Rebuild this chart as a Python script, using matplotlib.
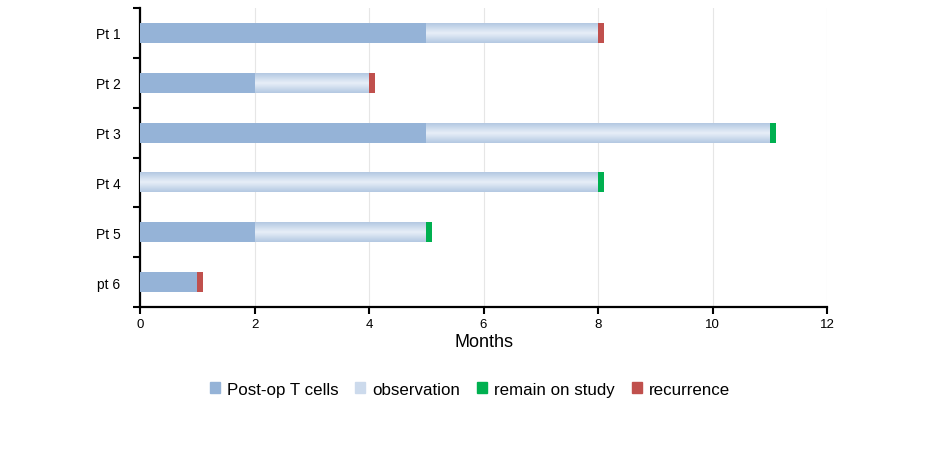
import numpy as np
import matplotlib
matplotlib.use('Agg')
import matplotlib.pyplot as plt
from matplotlib.colors import LinearSegmentedColormap
from matplotlib.patches import Patch

plt.rcParams['font.family'] = ['Liberation Sans', 'DejaVu Sans']

patients = ['Pt 1', 'Pt 2', 'Pt 3', 'Pt 4', 'Pt 5', 'pt 6']
tcells = [5, 2, 5, 0, 2, 1]
observation = [3, 2, 6, 8, 3, 0]
outcome = ['recurrence', 'recurrence', 'remain', 'remain', 'remain', 'recurrence']
marker_width = 0.1

col_t = '#95b3d7'
col_green = '#00b050'
col_red = '#c0504d'
grad = LinearSegmentedColormap.from_list('obs', ['#b3c8e2', '#e8eff8', '#b3c8e2'])

fig = plt.figure(figsize=(9.36, 4.52), dpi=100)
ax = fig.add_axes([0.1496, 0.3186, 0.734, 0.6614])

h = 0.4
y = np.arange(len(patients))
ax.barh(y, tcells, height=h, color=col_t, zorder=3)

# observation stretch gets a vertical gradient, lighter in the middle
g = np.linspace(0, 1, 64).reshape(-1, 1)
for i in range(len(patients)):
    if observation[i] > 0:
        x0 = tcells[i]
        x1 = tcells[i] + observation[i]
        ax.imshow(g, cmap=grad, aspect='auto', interpolation='bilinear',
                  extent=[x0, x1, y[i] + h / 2, y[i] - h / 2], zorder=3)
    end = tcells[i] + observation[i]
    c = col_red if outcome[i] == 'recurrence' else col_green
    ax.barh(y[i], marker_width, left=end, height=h, color=c, zorder=4)

ax.set_xlim(0, 12)
ax.set_ylim(len(patients) - 0.5, -0.5)
ax.set_xticks(range(0, 13, 2))
ax.set_yticks(y)
ax.set_yticklabels(patients)
ax.set_yticks(np.arange(-0.5, len(patients)), minor=True)
ax.tick_params(axis='y', which='major', length=0, pad=14, labelsize=10)
ax.tick_params(axis='y', which='minor', length=5, width=1.5)
ax.tick_params(axis='x', length=5, width=1.5, labelsize=9.5, pad=3)
ax.grid(axis='x', color='#e6e6e6', linewidth=0.8, zorder=0)
for s in ['top', 'right']:
    ax.spines[s].set_visible(False)
for s in ['left', 'bottom']:
    ax.spines[s].set_linewidth(1.6)
ax.set_xlabel('Months', fontsize=13, labelpad=2)

handles = [Patch(color=col_t), Patch(color='#ccdaec'),
           Patch(color=col_green), Patch(color=col_red)]
labels = ['Post-op T cells', 'observation', 'remain on study', 'recurrence']
fig.legend(handles, labels, loc='center', bbox_to_anchor=(0.502, 0.137), ncol=4,
           frameon=False, fontsize=12.2, handlelength=0.6, handleheight=0.6,
           handletextpad=0.4, columnspacing=1.0)

fig.savefig('out.png', dpi=100)
